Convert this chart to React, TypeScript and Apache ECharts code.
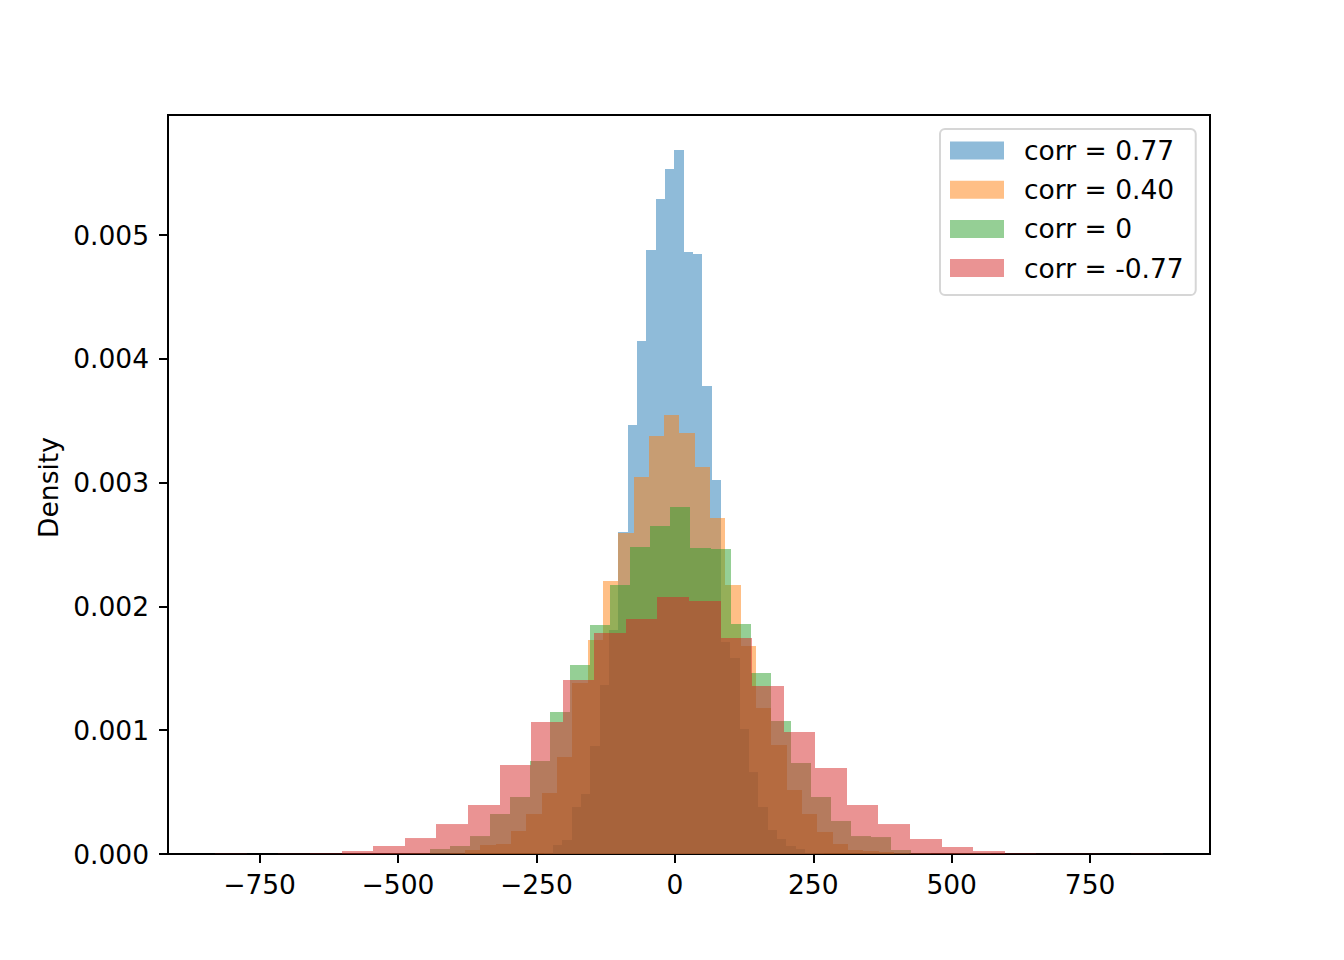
import React, { useEffect, useRef } from "react";
import * as echarts from "echarts";

// ---- data (densities; 30 bins per series) ----
const seriesNames = ["corr = 0.77", "corr = 0.40", "corr = 0", "corr = -0.77"];
const seriesColors = [
  "rgba(31,119,180,0.5)",
  "rgba(255,127,14,0.5)",
  "rgba(44,160,44,0.5)",
  "rgba(214,39,40,0.5)",
];

const blueStart = -236.9;
const blueWidth = 16.86;
const blueHeights = [
  0.000004, 0.0000727, 0.000113, 0.00038, 0.000485, 0.000872, 0.001365, 0.001809,
  0.002601, 0.003465, 0.004144, 0.004879, 0.005291, 0.005533, 0.005687, 0.004863,
  0.004847, 0.00378, 0.003021, 0.001712, 0.001583, 0.00101, 0.000662, 0.00038,
  0.000194, 0.000121, 0.0000646, 0.0000404, 0.000008, 0.000004,
];

const orangeStart = -406.7;
const orangeWidth = 27.67;
const orangeHeights = [
  0.000004, 0.0000323, 0.0000727, 0.0000808, 0.000186, 0.000323, 0.000493, 0.000784,
  0.001381, 0.001729, 0.002205, 0.002593, 0.003045, 0.003376, 0.003546, 0.003401,
  0.003126, 0.002714, 0.002173, 0.00168, 0.001179, 0.000881, 0.000517, 0.000323,
  0.000178, 0.0000808, 0.0000323, 0.0000242, 0.0000162, 0.000004,
];

const greenStart = -514.6;
const greenWidth = 36.19;
const greenHeights = [
  0.000002, 0.000004, 0.0000404, 0.0000646, 0.000145, 0.000323, 0.00046, 0.000751,
  0.001147, 0.001527, 0.00185, 0.002173, 0.00248, 0.002649, 0.002803, 0.002472,
  0.002464, 0.001858, 0.001462, 0.001074, 0.000735, 0.00046, 0.000267, 0.000145,
  0.000137, 0.0000323, 0.000004, 0.000002, 0.000002, 0.000002,
];

const redStart = -829.9;
const redWidth = 57.03;
const redHeights = [
  0.000002, 0, 0.000002, 0.000004, 0.0000242, 0.0000646, 0.000129, 0.000242,
  0.000396, 0.000719, 0.001066, 0.001406, 0.001785, 0.001898, 0.002076, 0.002044,
  0.001745, 0.001357, 0.000986, 0.000695, 0.000396, 0.000242, 0.000121, 0.0000565,
  0.0000242, 0.000004, 0.000002, 0.000002, 0, 0.000002,
];

const xTicks = [-750, -500, -250, 0, 250, 500, 750];
const yTicks = [0, 0.001, 0.002, 0.003, 0.004, 0.005];
const xMin = -915.4;
const xMax = 966.5;
const yMax = 0.00597;

const FONT = "DejaVu Sans";
const FS = 26.5;

function bins(start: number, width: number, heights: number[]) {
  return heights.map((h, i) => [start + i * width, start + (i + 1) * width, h]);
}

export default function App() {
  const ref = useRef<HTMLDivElement>(null);

  useEffect(() => {
    document.body.style.margin = "0";
    if (!ref.current) return;
    const chart = echarts.init(ref.current, null, { renderer: "svg" });

    const histData = [
      bins(blueStart, blueWidth, blueHeights),
      bins(orangeStart, orangeWidth, orangeHeights),
      bins(greenStart, greenWidth, greenHeights),
      bins(redStart, redWidth, redHeights),
    ];

    const series = histData.map((data, idx) => ({
      type: "custom",
      name: seriesNames[idx],
      color: seriesColors[idx],
      data,
      encode: { x: [0, 1], y: 2 },
      renderItem: (_params: any, api: any) => {
        const tl = api.coord([api.value(0), api.value(2)]);
        const br = api.coord([api.value(1), 0]);
        const x0 = Math.round(tl[0]);
        const x1 = Math.round(br[0]);
        return {
          type: "rect",
          shape: { x: x0, y: tl[1], width: x1 - x0, height: br[1] - tl[1] },
          style: { fill: api.visual("color") },
        };
      },
    }));

    const option: any = {
      animation: false,
      backgroundColor: "#ffffff",
      textStyle: { fontFamily: FONT },
      grid: {
        left: 168,
        top: 115,
        width: 1042,
        height: 739,
        show: true,
        borderColor: "#000",
        borderWidth: 2,
        backgroundColor: "transparent",
        outerBoundsMode: "none",
      },
      xAxis: {
        type: "value",
        min: xMin,
        max: xMax,
        axisLine: { show: true, onZero: false, lineStyle: { color: "#000", width: 2 } },
        axisTick: {
          show: true,
          length: 9,
          inside: false,
          customValues: xTicks,
          lineStyle: { color: "#000", width: 2 },
        },
        axisLabel: {
          show: true,
          customValues: xTicks,
          margin: 17,
          fontSize: FS,
          fontFamily: FONT,
          color: "#000",
          formatter: (v: number) => (v < 0 ? "\u2212" + Math.abs(v) : String(v)),
        },
        splitLine: { show: false },
      },
      yAxis: {
        type: "value",
        min: 0,
        max: yMax,
        name: "Density",
        nameLocation: "middle",
        nameRotate: 90,
        nameGap: 105,
        nameTextStyle: { fontSize: FS, fontFamily: FONT, color: "#000", padding: [0, 6, 0, 0] },
        axisLine: { show: true, onZero: false, lineStyle: { color: "#000", width: 2 } },
        axisTick: {
          show: true,
          length: 9,
          inside: false,
          customValues: yTicks,
          lineStyle: { color: "#000", width: 2 },
        },
        axisLabel: {
          show: true,
          customValues: yTicks,
          margin: 19,
          fontSize: FS,
          fontFamily: FONT,
          color: "#000",
          formatter: (v: number) => v.toFixed(3),
        },
        splitLine: { show: false },
      },
      legend: {
        data: seriesNames.map((n) => ({ name: n })),
        orient: "vertical",
        left: 940,
        top: 129,
        icon: "rect",
        itemWidth: 54,
        itemHeight: 18,
        itemGap: 12.2,
        padding: [8, 12, 13.5, 10],
        backgroundColor: "#ffffff",
        borderColor: "#d6d6d6",
        borderWidth: 2,
        borderRadius: 5,
        selectedMode: false,
        textStyle: { fontSize: FS, fontFamily: FONT, color: "#000", padding: [0, 0, 0, 15] },
      },
      series,
    };

    chart.setOption(option);
    return () => chart.dispose();
  }, []);

  return (
    <div
      ref={ref}
      style={{ position: "absolute", left: 0, top: 0, width: 1344, height: 960 }}
    />
  );
}
